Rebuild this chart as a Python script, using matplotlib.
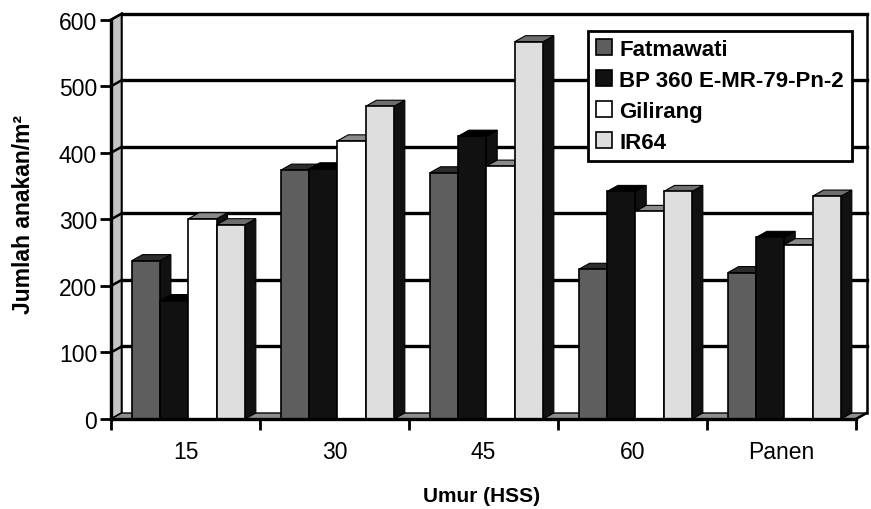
import matplotlib
matplotlib.use('Agg')
import matplotlib.pyplot as plt
from matplotlib.patches import Polygon

plt.rcParams['font.family'] = ['Liberation Sans', 'DejaVu Sans']

# data
categories = ['15', '30', '45', '60', 'Panen']
series_names = ['Fatmawati', 'BP 360 E-MR-79-Pn-2', 'Gilirang', 'IR64']
fatmawati = [238, 374, 370, 225, 220]
bp360 = [178, 376, 425, 342, 273]
gilirang = [301, 418, 380, 312, 262]
ir64 = [292, 470, 567, 342, 335]
y_ticks = [0, 100, 200, 300, 400, 500, 600]

series = [fatmawati, bp360, gilirang, ir64]
face_colors = ['#5e5e5e', '#111111', '#ffffff', '#dedede']
top_colors = ['#2c2c2c', '#000000', '#8a8a8a', '#6e6e6e']
side_color = '#111111'

# fake 3d depth (data units)
dx = 0.072
dy = 9
bar_w = 0.19
group_off = 0.14
ymax = y_ticks[-1]
ncat = len(categories)

fig = plt.figure(figsize=(8.71, 5.10), dpi=100)
ax = fig.add_axes([111 / 871, 90 / 510, 745 / 871, 399.3 / 510])
ax.set_xlim(0, ncat)
ax.set_ylim(0, ymax)

# back wall, side wall and floor
side_wall = Polygon([(0, 0), (dx, dy), (dx, ymax + dy), (0, ymax)], closed=True,
                    facecolor='#c4c4c4', edgecolor='black', lw=1.5, clip_on=False, zorder=1)
ax.add_patch(side_wall)
floor = Polygon([(0, 0), (ncat, 0), (ncat + dx, dy), (dx, dy)], closed=True,
                facecolor='#8e8e8e', edgecolor='black', lw=1, clip_on=False, zorder=1)
ax.add_patch(floor)
for v in y_ticks[1:]:
    ax.plot([dx, ncat + dx], [v + dy, v + dy], color='black', lw=2.4, clip_on=False, zorder=1.5)
    ax.plot([0, dx], [v, v + dy], color='black', lw=1.8, clip_on=False, zorder=1.5)
ax.plot([ncat + dx, ncat + dx], [dy, ymax + dy], color='black', lw=1.8, clip_on=False, zorder=1.5)
ax.plot([ncat, ncat + dx], [0, dy], color='black', lw=1.8, clip_on=False, zorder=1.5)

# bars: front face with library bar, side + top as polygons
handles = []
for j, vals in enumerate(series):
    lefts = [i + group_off + j * bar_w for i in range(ncat)]
    bars = ax.bar(lefts, vals, width=bar_w, align='edge', color=face_colors[j],
                  edgecolor='black', lw=1.2, zorder=4 + 2 * j, label=series_names[j])
    handles.append(bars)
    for xl, h in zip(lefts, vals):
        xr = xl + bar_w
        side = Polygon([(xr, 0), (xr + dx, dy), (xr + dx, h + dy), (xr, h)], closed=True,
                       facecolor=side_color, edgecolor='black', lw=0.8, zorder=3 + 2 * j)
        top = Polygon([(xl, h), (xr, h), (xr + dx, h + dy), (xl + dx, h + dy)], closed=True,
                      facecolor=top_colors[j], edgecolor='black', lw=0.8, zorder=3 + 2 * j)
        ax.add_patch(side)
        ax.add_patch(top)

# axes
for s in ['top', 'right']:
    ax.spines[s].set_visible(False)
for s in ['left', 'bottom']:
    ax.spines[s].set_linewidth(2.4)
    ax.spines[s].set_zorder(20)
ax.set_yticks(y_ticks)
ax.tick_params(axis='y', direction='out', length=8, width=2, labelsize=16.5, pad=2)
ax.set_xticks(range(ncat + 1))
ax.set_xticklabels([])
ax.set_xticks([i + 0.5 for i in range(ncat)], minor=True)
ax.set_xticklabels(categories, minor=True)
ax.tick_params(axis='x', which='major', direction='out', length=8, width=2)
ax.tick_params(axis='x', which='minor', length=0, labelsize=16.5, pad=15)

leg = ax.legend(handles=handles, loc='upper left', bbox_to_anchor=(588 / 871, 1 - 32 / 510),
                bbox_transform=fig.transFigure, prop={'weight': 'bold', 'size': 16},
                fancybox=False, framealpha=1, edgecolor='black', borderpad=0.35,
                handlelength=0.75, handleheight=0.75, handletextpad=0.3, labelspacing=0.45,
                borderaxespad=0)
leg.get_frame().set_linewidth(2)
leg.set_zorder(30)

fig.text(24 / 871, 1 - 215 / 510, 'Jumlah anakan/m\u00b2', rotation=90, fontsize=16.5,
         fontweight='bold', ha='center', va='center')
fig.text(482 / 871, 1 - 497 / 510, 'Umur (HSS)', fontsize=15, fontweight='bold',
         ha='center', va='center')

fig.savefig('out.png', dpi=100)
